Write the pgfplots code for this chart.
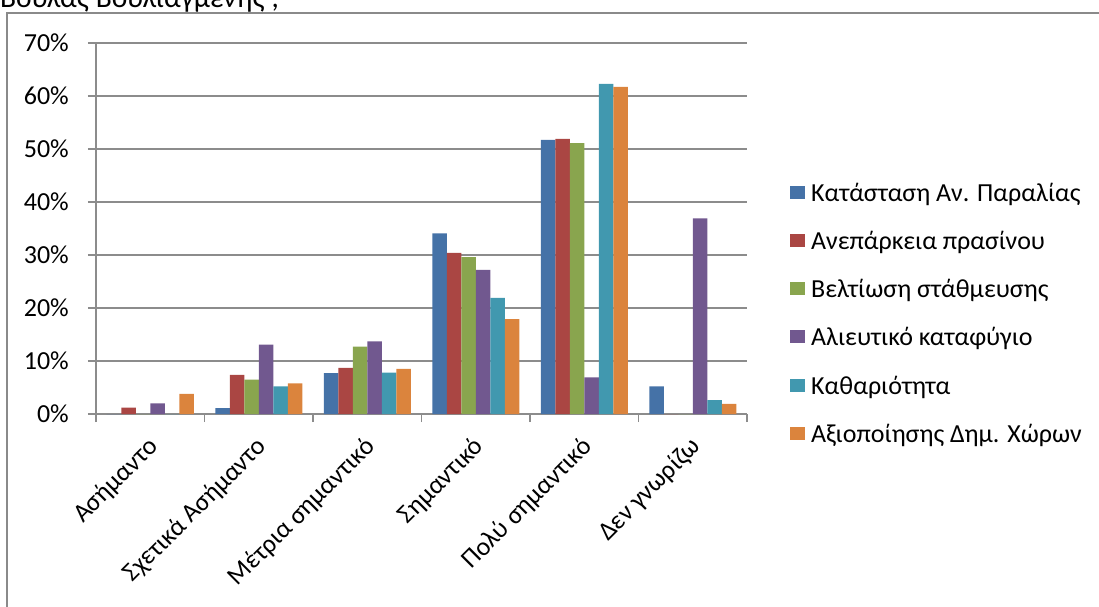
\documentclass[border=0pt]{standalone}
\usepackage{pgfplots}
\pgfplotsset{compat=1.18}
\usetikzlibrary{calc}
\usepackage{fontspec}
\setmainfont{Carlito}
\definecolor{c1}{HTML}{4572A7}
\definecolor{c2}{HTML}{AA4643}
\definecolor{c3}{HTML}{89A54E}
\definecolor{c4}{HTML}{71588F}
\definecolor{c5}{HTML}{4198AF}
\definecolor{c6}{HTML}{DB843D}
\definecolor{gridgray}{HTML}{8C8C8C}
\definecolor{framegray}{HTML}{8A8A8A}
\begin{document}
\fontsize{26}{31}\selectfont
\begin{tikzpicture}[x=1pt,y=1pt]
\path[use as bounding box] (0pt,0pt) rectangle (1099pt,606pt);
\clip (0pt,0pt) rectangle (1099pt,606pt);
\draw[framegray, line width=1.5pt] (7pt,-20pt) -- (7pt,593pt) -- (1120pt,593pt);
\node[anchor=base west, inner sep=0pt, font=\fontsize{29.5}{34}\selectfont] at (0pt,598pt) {Βουλας Βουλιαγμένης ;};
\begin{axis}[
  at={(96pt,192pt)}, anchor=south west,
  scale only axis, width=651pt, height=371pt,
  xmin=-0.5, xmax=5.5, ymin=0, ymax=0.7,
  ybar=0pt, bar width=14.5pt,
  axis lines=left, axis line style={-, gridgray, line width=1.6pt},
  ymajorgrids, major grid style={gridgray, line width=1.6pt},
  tick align=outside, major tick length=8pt,
  tick style={gridgray, line width=1.6pt},
  ytick={0,0.1,0.2,0.3,0.4,0.5,0.6,0.7},
  yticklabels={0\%,10\%,20\%,30\%,40\%,50\%,60\%,70\%},
  xtick={-0.5,0.5,1.5,2.5,3.5,4.5,5.5},
  xticklabels={},
  font=\fontsize{26}{31}\selectfont,
  /pgf/number format/assume math mode=true,
  yticklabel style={inner sep=0pt, xshift=-19pt},
  legend style={at={(1.066,0.266)}, anchor=west, draw=none, fill=none,
    inner sep=0pt, row sep=23.3pt, column sep=6pt,
    nodes={inner sep=0pt, text height=19pt, text depth=6pt, anchor=base west}},
  legend cell align=left,
  legend image code/.code={\fill[#1] (0pt,2.5pt) rectangle (15pt,15.5pt);},
  clip=false,
]
\addplot[fill=c1, draw=none] coordinates {(0,0) (1,0.011) (2,0.077) (3,0.341) (4,0.517) (5,0.052)};
\addplot[fill=c2, draw=none] coordinates {(0,0.012) (1,0.074) (2,0.087) (3,0.304) (4,0.519) (5,0)};
\addplot[fill=c3, draw=none] coordinates {(0,0) (1,0.065) (2,0.127) (3,0.296) (4,0.511) (5,0)};
\addplot[fill=c4, draw=none] coordinates {(0,0.020) (1,0.131) (2,0.137) (3,0.272) (4,0.069) (5,0.369)};
\addplot[fill=c5, draw=none] coordinates {(0,0) (1,0.052) (2,0.078) (3,0.219) (4,0.623) (5,0.026)};
\addplot[fill=c6, draw=none] coordinates {(0,0.038) (1,0.058) (2,0.085) (3,0.179) (4,0.617) (5,0.019)};
\legend{Κατάσταση Αν. Παραλίας,Ανεπάρκεια πρασίνου,Βελτίωση στάθμευσης,Αλιευτικό καταφύγιο,Καθαριότητα,Αξιοποίησης Δημ. Χώρων}
\coordinate (c0) at (axis cs:0,0);
\coordinate (c1) at (axis cs:1,0);
\coordinate (c2) at (axis cs:2,0);
\coordinate (c3) at (axis cs:3,0);
\coordinate (c4) at (axis cs:4,0);
\coordinate (c5) at (axis cs:5,0);
\end{axis}
\foreach \c/\t in {c0/Ασήμαντο,c1/Σχετικά Ασήμαντο,c2/Μέτρια σημαντικό,c3/Σημαντικό,c4/Πολύ σημαντικό,c5/Δεν γνωρίζω}{
  \node[rotate=45, anchor=base east, inner sep=0pt] at ($(\c)+(9pt,-34pt)$) {\t};
}
\end{tikzpicture}
\end{document}
